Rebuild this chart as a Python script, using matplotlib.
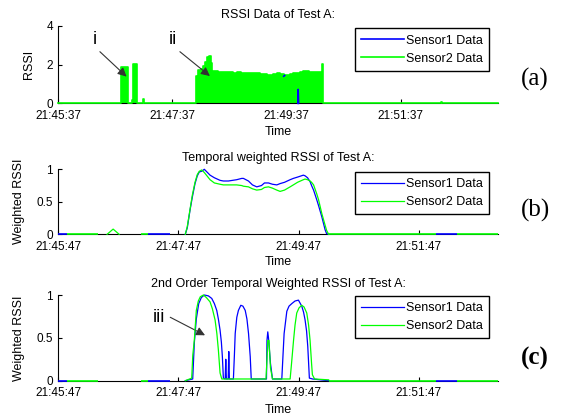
import numpy as np
import matplotlib
matplotlib.use('Agg')
import matplotlib.pyplot as plt

nan = np.nan
plt.rcParams['font.family'] = 'Liberation Sans'
plt.rcParams['font.size'] = 9

blue = '#0000ff'
green = '#00ff00'

# x ticks (seconds from start of each panel)
tick_sec = [0, 120, 240, 360]
a_ticklabels = ['21:45:37', '21:47:37', '21:49:37', '21:51:37']
bc_ticklabels = ['21:45:47', '21:47:47', '21:49:47', '21:51:47']
a_xmax = 462
bc_xmax = 439

# (a) raw RSSI, step data
a_s2_t = [0, 65.8, 73.8, 78.0, 78.7, 82.9, 89.0, 90.0, 144.8, 145.5, 147.3, 150, 152,
          154.2, 156, 158.8, 160.2, 161.9, 165, 168, 173.5, 178, 184, 188, 192, 198,
          203, 207, 212, 216, 219, 223, 226, 229.5, 233, 237, 240, 244, 247, 250.5,
          254, 257.4, 261, 264, 268, 272, 276.7, 277.7, 278.4, 402, 403, 462]
a_s2_v = [0, 1.86, 0, 0.17, 2.04, 0, 0.2, 0, 1.41, 1.38, 1.72, 1.75, 1.95,
          2.16, 2.41, 2.45, 2.07, 1.69, 1.66, 1.64, 1.64, 1.62, 1.59, 1.6, 1.58, 1.59,
          1.56, 1.55, 1.52, 1.5, 1.45, 1.47, 1.5, 1.55, 1.51, 1.48, 1.48, 1.52, 1.55, 1.55,
          1.6, 1.67, 1.65, 1.64, 1.64, 1.6, 1.55, 2.04, 0, 0.05, 0, 0]
a_s1_t = [237.0, 238.0, nan, 251.8, 252.2, 252.6]
a_s1_v = [1.40, 1.44, nan, 0, 0.72, 0]

# (b) temporal weighted RSSI
b_t = [127, 129, 131.7, 134, 136.7, 139, 141, 143.4, 146, 151.7, 156, 161.7, 165, 170,
       178.3, 183.3, 185, 190, 194, 198.3, 203, 206, 210, 214, 218.3, 221.6, 226,
       231.6, 234.8, 239, 244.8, 246.5, 249, 251.5, 253, 255, 258.2, 260, 263.2,
       266.5, 268, 270]
b_s1 = [0, 0.1, 0.37, 0.57, 0.78, 0.9, 0.96, 0.97, 1.0, 0.91, 0.87, 0.83, 0.82, 0.82,
        0.84, 0.86, 0.86, 0.82, 0.76, 0.73, 0.75, 0.79, 0.79, 0.77, 0.76, 0.78, 0.8,
        0.84, 0.86, 0.88, 0.91, 0.9, 0.87, 0.81, 0.75, 0.68, 0.53, 0.44, 0.27,
        0.07, 0.01, 0]
b_s2 = [0, 0.12, 0.38, 0.6, 0.8, 0.92, 0.97, 0.99, 0.95, 0.84, 0.79, 0.77, 0.76, 0.76,
        0.76, 0.75, 0.74, 0.73, 0.7, 0.68, 0.69, 0.72, 0.73, 0.71, 0.68, 0.66, 0.68,
        0.73, 0.76, 0.8, 0.84, 0.85, 0.84, 0.82, 0.8, 0.76, 0.62, 0.53, 0.32,
        0.14, 0.06, 0]
b_blip_t = [49, 52, 55, 58, 61]
b_blip_v = [0, 0.04, 0.08, 0.04, 0]

# (c) 2nd order weighted RSSI
c_s1_t = [127, 134.4, 136, 138, 140.4, 143, 146, 150, 153.4, 156, 158.4, 160, 161.7, 163,
          164, 165, 166.8, 167.4, 168, 169.8, 170.4, 171, 175, 176, 176.8, 178.4, 180,
          182.4, 184.5, 186.8, 188.5, 190.1, 191.8, 192.8, 208, 208.5, 209.3, 210, 212,
          214, 223.3, 224.5, 225.6, 228.3, 230.5, 233.3, 236.5, 239.9, 243.2, 245, 246.5,
          248, 249.2, 250.8, 254, 270]
c_s1 = [0, 0.02, 0.44, 0.72, 0.9, 0.97, 1.0, 0.99, 0.96, 0.9, 0.82, 0.72, 0.59, 0.45,
        0.28, 0.03, 0.02, 0.25, 0.02, 0.02, 0.34, 0.02, 0.02, 0.3, 0.55, 0.74, 0.82,
        0.88, 0.87, 0.82, 0.72, 0.55, 0.28, 0.02, 0.02, 0.47, 0.57, 0.5, 0.2,
        0.02, 0.02, 0.3, 0.55, 0.81, 0.87, 0.9, 0.93, 0.94, 0.87, 0.8, 0.71,
        0.58, 0.4, 0.03, 0.02, 0]
c_s2_t = [127, 133.4, 134.5, 136, 138, 140, 142, 145.1, 148, 151.7, 154, 156.7, 158.5, 160,
          161.7, 163.4, 207.5, 208.3, 209.3, 210.5, 212, 214, 231.6, 233, 235, 236.5,
          238.2, 240.5, 243.2, 245.5, 248.2, 250, 251.5, 253, 253.8, 256, 270]
c_s2 = [0, 0.03, 0.3, 0.47, 0.82, 0.93, 0.98, 1.0, 0.97, 0.92, 0.84, 0.71, 0.55, 0.36,
        0.09, 0.02, 0.02, 0.2, 0.47, 0.47, 0.15, 0.02, 0.02, 0.2, 0.47, 0.65,
        0.79, 0.85, 0.88, 0.86, 0.79, 0.65, 0.47, 0.2, 0.07, 0.02, 0.01]

# zero-level pieces of both sensors in (b) and (c)
s1_base_start = [0, 90, 377]
s1_base_end = [9, 112, 398]
s2_base_start = [9, 83, 270, 398]
s2_base_end = [40, 90, 377, 439]


def style_axes(ax, xmax, ticklabels, yticks, yticklabels, title, ylabel, ylab_x, xlab_y):
    ax.set_xlim(0, xmax)
    ax.set_ylim(yticks[0], yticks[-1])
    ax.set_xticks(tick_sec)
    ax.set_xticklabels(ticklabels)
    ax.set_yticks(yticks)
    ax.set_yticklabels(yticklabels)
    ax.spines['top'].set_visible(False)
    ax.spines['right'].set_visible(False)
    ax.tick_params(direction='in', length=3, labelsize=8.5)
    ax.tick_params(axis='x', pad=4.5)
    ax.tick_params(axis='y', pad=3.5)
    ax.set_title(title, fontsize=9, pad=6)
    ax.set_ylabel(ylabel, fontsize=9)
    ax.yaxis.set_label_coords(ylab_x, 0.5)
    ax.set_xlabel('Time', fontsize=9)
    ax.xaxis.set_label_coords(0.5, xlab_y)


def add_legend(ax, top_px):
    ax.legend(loc='upper right', bbox_to_anchor=(488.7 / 563, 1 - top_px / 419),
              bbox_transform=fig.transFigure, borderaxespad=0, fancybox=False,
              edgecolor='black', framealpha=1, fontsize=9, handlelength=3.4,
              handletextpad=0.15, borderpad=0.5, labelspacing=0.5)


def arrow(ax, start, tip):
    ax.annotate('', xy=tip, xytext=start,
                arrowprops=dict(arrowstyle='-|>', color='#333333', lw=0.8,
                                mutation_scale=13, shrinkA=0, shrinkB=0))


def zero_pieces(ax, starts, ends, color, z):
    ax.hlines([0] * len(starts), starts, ends, color=color, lw=1.2, clip_on=False, zorder=z)


fig = plt.figure(figsize=(5.63, 4.19), dpi=100)
left, width = 58 / 563, 440 / 563
ax_a = fig.add_axes([left, 1 - 103.3 / 419, width, 77.3 / 419])
ax_b = fig.add_axes([left, 1 - 234.3 / 419, width, 65 / 419])
ax_c = fig.add_axes([left, 1 - 380.7 / 419, width, 85.7 / 419])

# (a)
ax_a.plot(a_s1_t, a_s1_v, color=blue, lw=1.2, label='Sensor1 Data', zorder=4, clip_on=False)
ax_a.fill_between(a_s2_t, 0, a_s2_v, step='post', color=green, lw=0, zorder=2)
ax_a.step(a_s2_t, a_s2_v, where='post', color=green, lw=1.2, label='Sensor2 Data',
          zorder=3, clip_on=False)
style_axes(ax_a, a_xmax, a_ticklabels, [0, 2, 4], ['0', '2', '4'],
           'RSSI Data of Test A:', 'RSSI', -0.052, -0.29)
add_legend(ax_a, 28.3)
ax_a.text(38.8, 3.28, 'i', ha='center', va='center', fontsize=13)
arrow(ax_a, (44, 2.67), (72, 1.38))
ax_a.text(120.4, 3.28, 'ii', ha='center', va='center', fontsize=13)
arrow(ax_a, (128, 2.67), (159.5, 1.41))

# (b)
zero_pieces(ax_b, s1_base_start, s1_base_end, blue, 3)
ax_b.plot(b_t, b_s1, color=blue, lw=0.9, label='Sensor1 Data', clip_on=False, zorder=3)
zero_pieces(ax_b, s2_base_start, s2_base_end, green, 4)
ax_b.plot(b_blip_t, b_blip_v, color=green, lw=0.9, clip_on=False, zorder=4)
ax_b.plot(b_t, b_s2, color=green, lw=0.9, label='Sensor2 Data', clip_on=False, zorder=4)
style_axes(ax_b, bc_xmax, bc_ticklabels, [0, 0.5, 1], ['0', '0.5', '1'],
           'Temporal weighted RSSI of Test A:', 'Weighted RSSI', -0.075, -0.34)
add_legend(ax_b, 171.7)

# (c)
zero_pieces(ax_c, s1_base_start, s1_base_end, blue, 3)
ax_c.plot(c_s1_t, c_s1, color=blue, lw=0.9, label='Sensor1 Data', clip_on=False, zorder=3)
zero_pieces(ax_c, s2_base_start, s2_base_end, green, 4)
ax_c.plot(c_s2_t, c_s2, color=green, lw=0.9, label='Sensor2 Data', clip_on=False, zorder=4)
style_axes(ax_c, bc_xmax, bc_ticklabels, [0, 0.5, 1], ['0', '0.5', '1'],
           '2nd Order Temporal Weighted RSSI of Test A:', 'Weighted RSSI', -0.075, -0.27)
add_legend(ax_c, 295.7)
ax_c.text(100.5, 0.74, 'iii', ha='center', va='center', fontsize=13)
arrow(ax_c, (112, 0.74), (146.7, 0.53))

# panel letters
fig.text(535 / 563, 1 - 79 / 419, '(a)', family='Liberation Serif', size=18, ha='center', va='center')
fig.text(535 / 563, 1 - 210 / 419, '(b)', family='Liberation Serif', size=18, ha='center', va='center')
fig.text(535 / 563, 1 - 358 / 419, '(c)', family='Liberation Serif', size=18, ha='center',
         va='center', weight='bold')

fig.savefig('out.png', dpi=100)
